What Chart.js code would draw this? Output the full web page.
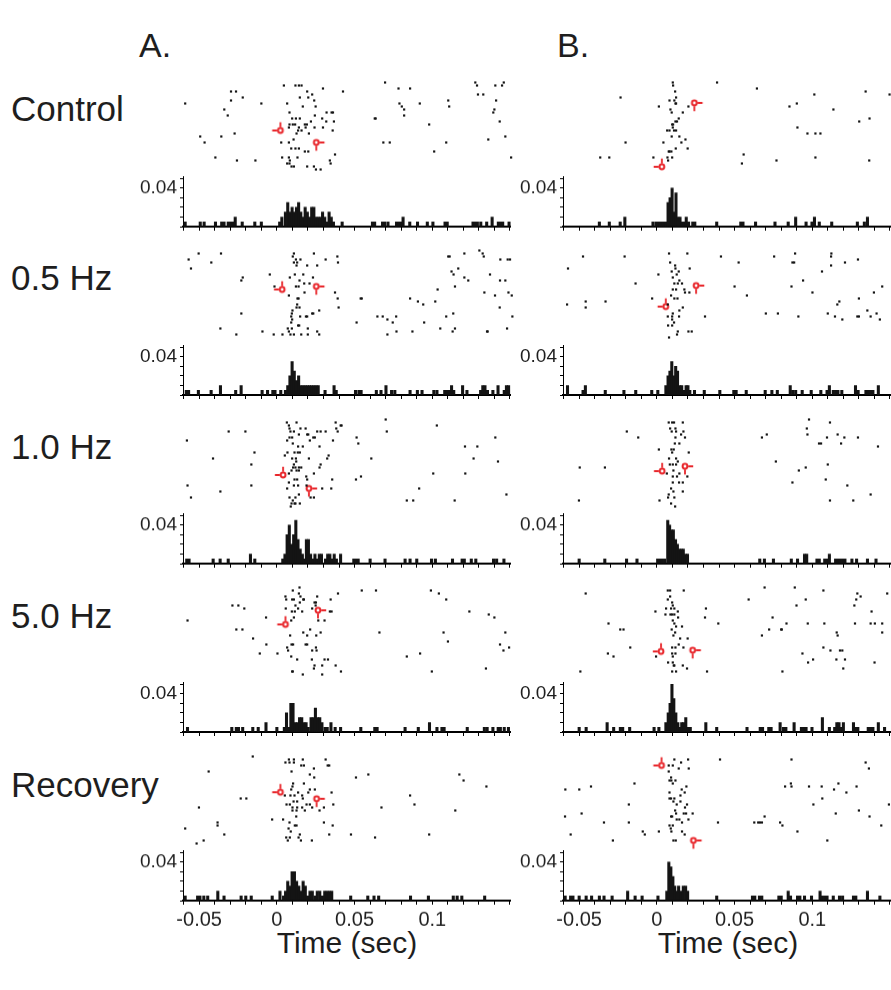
<!DOCTYPE html>
<html>
<head>
<meta charset="utf-8">
<script src="https://cdn.jsdelivr.net/npm/chart.js@4.4.1/dist/chart.umd.min.js"></script>
<style>
  html, body { margin: 0; padding: 0; background: #fff; width: 891px; height: 990px; overflow: hidden; position: relative; }
  canvas { position: absolute; }
  .lbl { position: absolute; font-family: 'Liberation Sans', Arial, sans-serif; color: #1e1e1e; line-height: 1; white-space: nowrap; }
</style>
</head>
<body>
<script>
// Row / column names and tick labels
const rowNames = ['Control', '0.5 Hz', '1.0 Hz', '5.0 Hz', 'Recovery'];
const columnNames = ['A.', 'B.'];
const xTickLabels = { '-50': '-0.05', '0': '0', '50': '0.05', '100': '0.1' };
const yTickLabel = '0.04';
const xTitle = 'Time (sec)';

// raster spikes: [time (ms), trial]
const controlA_spikes = [[-59,7],[4.1,1],[11.5,1],[13.7,1],[15.4,1],[29.1,2],[41.9,3],[68.8,0],[77.4,2],[84.8,2],[126.5,0],[127.6,1],[139.3,1],[143.6,1],[144.7,0],[-29.7,3],[-26.5,3],[-29.7,6],[-22.2,5],[-10.3,7],[19,3],[14.3,5],[19.7,5],[22.2,4],[23.5,6],[24.4,8],[16.2,8],[6.2,7],[78,7],[79.5,8],[81,9],[81,11],[91,7],[109.2,6],[109.8,8],[128.2,4],[131.6,4],[139.8,6],[138.7,9],[138,10],[142.1,13],[145.7,18],[149.4,25],[-34,9],[-31.8,11],[7.7,10],[34.6,10],[35.5,10],[31.4,10],[9.4,12],[11.8,12],[14.3,12],[23.9,11],[28.6,12],[31.2,13],[36.1,13],[21.4,13],[17.5,14],[18.8,14],[7.7,14],[9.8,14],[11.3,14],[13.7,15],[7.3,15],[12.2,17],[13.2,16],[15.4,16],[18,15],[20.1,17],[23.7,15],[29.1,15],[35.3,16],[62.2,12],[62.8,12],[97,14],[-49.4,18],[-46.6,20],[-35.9,18],[-27.4,17],[2.4,20],[7.3,20],[10.3,19],[67.7,20],[71.8,20],[107.9,20],[134.8,19],[8.8,22],[11.5,22],[13.7,22],[17.5,23],[19.7,23],[36.8,24],[100.2,23],[-39.7,25],[-25.9,26],[-14.1,26],[3,25],[7.3,25],[7.9,26],[6.2,27],[7.7,27],[12.8,25],[9,28],[33.5,26],[34,27],[10.5,28],[19,28],[23.3,28],[24.6,29],[27.6,29]];
const halfHzA_spikes = [[-56.8,3],[-55.3,6],[-50.4,1],[-42.3,4],[-36.1,1],[-23.1,10],[-22.2,9],[-23.1,21],[-36.5,26],[-26.3,28],[-9.6,27],[-4.9,8],[-2.4,28],[3.2,28],[10.5,1],[9.8,2],[11.8,3],[12.6,4],[14.7,3],[10.5,4],[12.2,5],[23.3,1],[30.8,3],[38.3,2],[38.7,4],[25.4,5],[19,5],[11.1,8],[16.5,8],[7.9,9],[14.1,10],[11.8,12],[13.5,12],[17.1,11],[20.5,11],[22.7,9],[17.3,14],[7.3,15],[13.5,16],[12.8,16],[-1.9,12],[36.8,14],[38.5,16],[39.1,19],[12.6,18],[14.1,19],[12.2,19],[9.6,20],[9.2,21],[8.8,22],[14.5,22],[18.2,22],[19,22],[22.2,21],[22.9,21],[26.7,20],[9.4,23],[8.8,24],[13.2,25],[13.9,25],[9.2,26],[19.4,26],[6.6,26],[7.3,27],[8.3,28],[10.5,28],[15.2,28],[19.4,28],[25.4,27],[26.7,28],[53.2,16],[53.9,16],[50.6,24],[63.9,22],[67.3,22],[70.3,23],[73.7,24],[75.9,22],[76.1,27],[70.3,28],[84.8,16],[89.8,17],[93.2,18],[100.9,17],[102.4,13],[86.3,27],[93.8,24],[104.1,26],[107.9,22],[112.4,21],[112,27],[113.5,26],[109.2,2],[110.1,2],[119.5,1],[115.6,6],[111.3,7],[112.6,8],[113.5,12],[119.5,9],[122,10],[129.1,0],[131.2,1],[131.9,2],[135.9,8],[132.3,14],[139.1,15],[142.1,19],[142.5,3],[147.2,3],[148.7,3],[142.3,10],[145.7,10],[147.7,14],[149.8,15],[150.2,22],[134,27],[134.4,27],[146.8,26]];
const oneHzA_spikes = [[-57.9,7],[-57.5,22],[-55.3,26],[-41.2,13],[-36.5,24],[-31.2,4],[-20.5,4],[-14.7,11],[-16.7,15],[-16.7,22],[6,1],[12.2,1],[7.3,2],[7.7,3],[8.3,4],[10.5,4],[13.7,5],[14.7,3],[18,3],[19,5],[19.7,5],[22.9,6],[23.9,6],[25.4,4],[27.6,4],[30.8,4],[37.2,1],[40.4,2],[41,2],[37.6,3],[38.5,4],[35.5,7],[6.2,7],[7.7,6],[9.4,6],[9.8,8],[13.2,9],[13,11],[14.3,11],[10.9,11],[16.2,9],[20.7,7],[26.9,9],[32.7,12],[31.8,13],[20.1,13],[6.4,11],[4.7,12],[9.4,13],[11.8,13],[12,14],[10.5,15],[11.5,16],[13.7,16],[15.2,16],[10,16],[12.2,17],[9,17],[13.7,17],[7.3,18],[27.6,15],[26.9,16],[23.3,18],[18.4,19],[19,20],[18.6,22],[10.9,20],[12.6,20],[13.2,22],[7.3,21],[10.5,22],[6.2,23],[35,20],[28.6,23],[34.4,23],[50.6,6],[51.7,8],[50.2,20],[53.4,19],[69.2,0],[69.9,4],[60,13],[7.7,26],[9.8,27],[11.5,28],[14.3,28],[9,28],[8.5,29],[10.9,28],[11.5,26],[13.7,25],[21.2,26],[23.3,26],[82.7,27],[86.8,27],[90.6,23],[99.6,18],[101.9,2],[113.3,27],[119.9,9],[120.1,18],[125.4,13],[127.8,9],[139.3,6],[141,14],[146.4,25]];
const fiveHzA_spikes = [[-57.5,11],[-28.8,6],[-25,6],[-21.2,7],[-26.3,14],[-22.4,14],[-15.6,17],[-7.3,10],[-7.1,19],[-11.3,22],[0,22],[5.1,3],[5.6,4],[9.8,1],[14.1,0],[13.7,2],[14.7,3],[16.5,4],[14.3,5],[16.9,4],[9.4,4],[10.5,4],[5.3,7],[11.5,6],[13.2,7],[9.2,8],[11.1,8],[15.8,8],[10.5,10],[8.8,11],[23.7,5],[24.6,5],[25.4,3],[24.4,6],[22.2,7],[34,4],[33.5,8],[34.6,8],[38.7,2],[26.1,11],[30.1,11],[27.6,15],[24.8,16],[20.9,14],[16.5,15],[19,16],[8.1,16],[9,19],[10,19],[18,19],[19,19],[6.2,20],[6.8,21],[22.2,21],[24.6,20],[25,21],[8.8,23],[12.6,24],[22,24],[30.1,24],[32.3,24],[23.7,26],[23.3,27],[28.6,26],[9.4,28],[9.8,28],[16.2,29],[28.6,29],[37.2,26],[40.6,28],[53.9,1],[63,1],[65.2,15],[82.7,23],[91.2,22],[98.1,1],[103.2,2],[107.9,4],[98.7,28],[106.2,15],[109,18],[122.7,8],[135.1,9],[138.7,10],[145.7,15],[142.3,19],[144.5,21],[148.1,20],[133.3,27]];
const recoveryA_spikes = [[-15.8,0],[-44,5],[-50.2,17],[-59,24],[-51.7,29],[-47.2,28],[-38.3,22],[-38.3,23],[-34,26],[-23.5,14],[-19.9,14],[-3.4,21],[3.6,21],[7.3,1],[7.7,2],[5.1,2],[10.5,1],[10.5,2],[16.2,1],[16.9,3],[15.2,3],[9,5],[23.3,4],[20.7,6],[23.5,7],[30.8,1],[33.1,3],[32.1,3],[10,9],[8.8,11],[9.6,10],[16.9,9],[19.7,12],[20.7,11],[23.9,11],[34.6,12],[4.7,13],[8.3,13],[10.9,13],[13.2,12],[15.8,13],[10.3,15],[12.6,15],[16.2,14],[18.6,16],[20.7,16],[5.8,16],[7.9,16],[9.6,17],[12.6,17],[15.8,17],[22.2,17],[12.2,18],[9.6,18],[17.5,18],[26.9,18],[29.7,17],[35.7,16],[12,20],[7.7,22],[11.1,23],[12.2,23],[7.1,24],[29.7,22],[35.3,23],[8.5,25],[14.3,26],[5.6,27],[7.9,27],[13.5,27],[15,28],[6.6,28],[22,28],[33.1,26],[47,26],[62.4,27],[50.2,7],[58.1,6],[66.5,17],[84.8,13],[87.6,16],[97,26],[116.3,6],[119,8],[113.7,18],[133.6,10]];
const controlB_spikes = [[9.8,0],[10,1],[11.3,3],[11.9,5],[10.8,6],[11.9,7],[11.5,7],[7.7,6],[8.3,9],[9.1,10],[0.9,8],[16.2,10],[19.8,8],[13.6,12],[12.5,13],[11.5,13],[10,14],[9.4,14],[9.8,15],[10.6,16],[6.2,16],[7.7,16],[11.9,16],[9.1,18],[14,18],[3.8,20],[7.2,23],[7.7,23],[8.9,23],[11.7,22],[15.3,20],[17.9,19],[19.3,22],[6.4,25],[9.4,25],[6.8,26],[-2.6,25],[-23.6,5],[-20.4,20],[-36.6,25],[-30.8,25],[38.1,0],[63.6,2],[55.1,24],[54,27],[76.1,26],[84.4,8],[89.1,7],[89.5,15],[95.9,17],[100.3,4],[101,17],[104.2,17],[101,25],[112.5,9],[129,13],[135.6,12],[133.1,3],[135.4,26],[148.4,4]];
const halfHzB_spikes = [[-57.2,6],[-47.6,2],[-57.8,18],[-45.9,17],[-45.9,19],[-33.2,17],[-21,2],[-14,11],[-3.4,16],[7.4,1],[8.1,4],[11.3,5],[11.5,6],[9.1,7],[13.6,7],[12.3,8],[0.6,8],[20.6,6],[19.1,1],[9.8,9],[10.8,11],[13,11],[14,10],[15.7,11],[17.2,13],[17.6,14],[20.4,14],[9.8,13],[11.9,13],[8.7,15],[10.8,16],[12.8,16],[6.6,18],[16.2,19],[14,20],[9.8,21],[9.4,22],[6.6,22],[13.8,22],[9.4,23],[10.6,24],[6.8,25],[9.4,25],[13,27],[12.5,28],[7.4,29],[19.8,27],[21.9,27],[30.4,22],[40.6,2],[51.9,4],[49.3,12],[57.2,15],[69.3,21],[74.6,2],[77,21],[88,1],[86.3,4],[87.4,4],[85.7,12],[90.1,22],[93.1,10],[99.1,14],[105.2,7],[108.9,21],[111.2,1],[111,2],[111,5],[113.5,22],[115,18],[116.3,17],[118.2,23],[119.9,4],[128.2,3],[127.8,22],[128.8,16],[128.8,22],[134.2,20],[136.3,22],[138.4,14],[140.1,21],[142.2,23],[143.7,12]];
const oneHzB_spikes = [[-49.7,16],[-50.2,27],[-33.6,16],[-19.6,4],[-12.3,6],[0.9,10],[1.3,27],[7.2,1],[9.4,1],[10.6,1],[8.1,3],[11.5,3],[9.1,4],[11.9,4],[16.2,1],[16.6,4],[15.1,5],[17.6,6],[11.5,6],[11.1,8],[14,8],[8.9,10],[10.4,10],[9.4,11],[20,11],[7.4,13],[11.9,13],[13,14],[7.9,15],[9.8,15],[11.9,15],[10.2,17],[14,18],[9.8,19],[19.1,19],[12.5,19],[6,18],[9.8,21],[13.8,21],[16.2,21],[8.7,23],[10.2,24],[10.8,26],[7.2,25],[6.8,26],[16.2,24],[8.7,28],[11.3,29],[66.8,6],[69.9,5],[75.7,14],[86.3,21],[90.4,17],[94.8,16],[95.5,3],[96.9,0],[95.9,5],[103.3,8],[104.6,8],[110.3,1],[108.4,6],[108.9,15],[107.6,20],[110.3,27],[115.2,5],[117.4,8],[119.5,6],[121.4,22],[125.2,27],[128.2,6],[136.3,25],[141,9]];
const fiveHzB_spikes = [[-45.9,2],[-49.3,28],[-31.3,12],[-31.7,22],[-28.1,23],[-23.8,14],[-21.7,14],[-17.4,20],[-1.3,8],[-0.9,23],[6.6,1],[8.1,1],[16.8,1],[8.1,3],[6.6,4],[9.4,5],[9.8,6],[5.5,7],[8.7,7],[10.8,7],[9.4,9],[8.3,9],[10.8,9],[13,8],[5.1,9],[13.2,10],[9.8,11],[10.8,12],[11.9,13],[15.7,13],[9.1,14],[10.2,16],[11.3,15],[14.5,17],[19.3,17],[9.4,20],[11.5,20],[13.6,19],[16.6,20],[9.4,22],[11.5,22],[9.8,23],[6.8,25],[9.8,25],[10.4,26],[10.8,26],[16.2,26],[18.9,27],[9.4,28],[11.9,28],[31,7],[30.4,10],[38.9,12],[31.7,28],[58.3,4],[66.8,16],[71.4,14],[68.5,0],[73.6,10],[79.1,14],[79.5,14],[82.5,12],[79.9,28],[87.8,0],[88.9,6],[92.7,22],[94.8,4],[96.1,12],[96.3,25],[99.5,24],[106.1,1],[106.1,20],[106.7,12],[110.6,21],[114.6,15],[115.2,16],[116.7,21],[118.2,21],[114.4,24],[119.9,24],[118.8,27],[125.9,6],[127.1,4],[127.8,2],[129.9,3],[126.3,12],[136.3,12],[139,12],[143.7,12],[136.9,8],[143.7,15],[138.8,25],[146.9,2]];
const recoveryB_spikes = [[-58.9,11],[-50,11],[-42.5,10],[-59.1,20],[-48.5,19],[-34.2,22],[-55.5,26],[-28.5,28],[-18.3,22],[-18.3,16],[-14.7,9],[-9.4,25],[-8.1,26],[0.9,25],[10.8,1],[15.1,2],[19.6,1],[7.2,3],[9.8,3],[13.6,4],[20,4],[7.2,5],[8.7,7],[7.7,8],[8.9,8],[11.5,8],[9.8,9],[18.5,10],[15.5,11],[17.4,12],[7.7,12],[8.7,14],[10.8,14],[7.7,14],[10.2,15],[14.7,13],[14.7,15],[12.3,16],[18.9,16],[17.6,17],[11.3,18],[16.8,19],[18.3,19],[22.5,19],[8.7,20],[11.9,19],[9.4,20],[12.3,21],[14,21],[15.7,22],[19.8,21],[7.7,23],[9.8,23],[8.5,24],[8.9,25],[15.7,25],[17.4,26],[11.7,28],[10.2,28],[40,1],[38.7,22],[61.9,22],[64.4,22],[65.5,22],[66.8,22],[68.5,20],[78.4,22],[79.9,23],[89.5,25],[85.7,1],[81.6,10],[85.3,9],[85.7,10],[96.9,10],[105,10],[99.7,16],[105.4,14],[112.9,11],[115.7,9],[120.8,12],[127.3,10],[114,19],[108.6,28],[128.8,18],[135.6,20],[143.1,23],[148,16],[133.1,2],[135.2,4]];

// red latency markers: [time (ms), trial, kind]
const controlA_marks = [[1.9,16,'L'],[24.8,20,'R']];
const halfHzA_marks = [[3,13,'L'],[24.8,12,'R']];
const oneHzA_marks = [[3.6,18.5,'L'],[20.1,23,'R']];
const fiveHzA_marks = [[5.1,12.3,'L'],[25.9,7.6,'R']];
const recoveryA_marks = [[1.9,11.9,'L'],[25,14.1,'R']];
const controlB_marks = [[23.6,6.8,'R'],[2.8,28.1,'L']];
const halfHzB_marks = [[5.3,18.7,'L'],[24.7,11.7,'R']];
const oneHzB_marks = [[3,17.2,'L'],[17.6,15.6,'R']];
const fiveHzB_marks = [[2.3,21.3,'L'],[22.5,20.9,'R']];
const recoveryB_marks = [[2.6,3,'L'],[23,28,'R']];

// histograms: [bin time (ms), value]
const controlA_psth = [[-59,.005],[-49.3,.005],[-46.8,.005],[-39.5,.005],[-35.5,.005],[-34,.005],[-31.3,.005],[-29.8,.005],[-28.3,.005],[-26.8,.01],[-22.3,.005],[-14.2,.005],[-10,.005],[1.8,.005],[3.2,.01],[5.5,.015],[7,.025],[8.4,.015],[9.8,.02],[11.2,.015],[12.6,.02],[14,.025],[15.4,.015],[16.8,.01],[18.2,.02],[19.6,.015],[21,.01],[22.4,.02],[23.8,.02],[25.2,.01],[26.6,.01],[28,.01],[29.4,.015],[30.8,.01],[32.2,.005],[33.6,.015],[35,.01],[36.4,.005],[42,.005],[61.5,.005],[62.9,.005],[68,.005],[69.4,.005],[71.5,.005],[77,.005],[78.4,.005],[79.8,.005],[81.2,.01],[85.5,.005],[90.5,.005],[96.8,.005],[100.4,.005],[108.2,.005],[109.6,.005],[126.2,.005],[127.6,.005],[129,.005],[131.2,.005],[135,.005],[138.5,.01],[142.5,.005],[143.9,.005],[145.3,.005],[149.4,.005]];
const halfHzA_psth = [[-58.3,.005],[-56.8,.005],[-50.5,.005],[-42.3,.005],[-36.3,.01],[-26.5,.005],[-23,.01],[-9.5,.005],[-6,.005],[-2.6,.005],[-1.2,.005],[2.5,.005],[5.5,.005],[7,.01],[8.4,.02],[9.8,.035],[11.2,.025],[12.6,.015],[14,.02],[15.4,.01],[16.8,.01],[18.2,.01],[19.6,.01],[21,.01],[22.4,.01],[23.8,.01],[25.2,.01],[26.6,.01],[31,.005],[36.8,.01],[38.2,.005],[50.6,.005],[52.8,.005],[54.2,.005],[64,.005],[67,.005],[70.2,.01],[73.8,.005],[75.9,.005],[85.7,.005],[90.4,.005],[93.4,.005],[101,.005],[103,.005],[108,.005],[109.8,.005],[111.2,.005],[112.4,.01],[113.8,.005],[119.5,.01],[122.3,.005],[131.1,.005],[132.5,.01],[133.9,.01],[135.5,.005],[139,.005],[142.3,.01],[146.3,.005],[147.7,.01],[149.1,.01]];
const oneHzA_psth = [[-58,.005],[-56.5,.005],[-41,.005],[-36.5,.005],[-31.3,.005],[-17,.01],[-14.2,.005],[3.8,.005],[5.2,.01],[6.6,.03],[8,.04],[9.4,.02],[10.8,.03],[12.2,.045],[13.6,.025],[15,.015],[16.4,.01],[17.6,.005],[19,.025],[20.3,.025],[21.7,.01],[23.1,.005],[24.5,.01],[25.9,.005],[27.3,.01],[28.7,.01],[31.3,.005],[32.7,.01],[34.1,.01],[35.5,.005],[36.9,.01],[38.3,.005],[41,.01],[49.5,.005],[50.9,.005],[52.3,.005],[60,.005],[69.6,.005],[82.5,.005],[85.7,.005],[90,.005],[99.5,.005],[102,.005],[113,.005],[119.2,.005],[120.6,.005],[125.1,.005],[128,.005],[139.4,.005],[141.4,.005],[146.1,.005]];
const fiveHzA_psth = [[-57.5,.005],[-29,.005],[-26.1,.005],[-24.7,.005],[-22,.005],[-15.5,.005],[-12,.005],[-7,.01],[0,.005],[4.8,.005],[6.2,.02],[7.6,.005],[9,.03],[10.4,.03],[11.8,.01],[13.2,.01],[14.6,.015],[16,.015],[17.4,.01],[18.8,.01],[20.2,.005],[22,.015],[23.4,.015],[24.8,.025],[26.2,.015],[27.6,.015],[29,.01],[31,.005],[32.4,.005],[34.8,.01],[37.5,.005],[41,.005],[54,.005],[63,.005],[64.5,.005],[82.5,.005],[91,.005],[98.2,.01],[103,.005],[106.2,.005],[107.6,.005],[122.5,.005],[133.5,.005],[135.3,.005],[139,.005],[142.4,.005],[143.8,.005],[146.3,.005],[149,.005]];
const recoveryA_psth = [[-59,.005],[-51,.005],[-49.5,.005],[-47,.005],[-44.5,.005],[-38,.01],[-34,.005],[-23,.005],[-20,.005],[-16.5,.005],[-3,.005],[2,.01],[4.3,.005],[5.6,.01],[7,.02],[8.3,.015],[9.8,.03],[11.3,.03],[12.7,.02],[14.1,.015],[15.5,.01],[16.9,.02],[18.3,.015],[19.7,.005],[21.3,.01],[22.8,.01],[24.5,.005],[26,.01],[27.6,.01],[29.3,.005],[30.8,.01],[32.3,.01],[33.8,.01],[35.3,.01],[47.5,.005],[58.5,.005],[62.5,.005],[65.5,.005],[86,.005],[97.5,.005],[113.5,.005],[116,.005],[119,.005],[133.7,.005]];
const controlB_psth = [[-37,.005],[-30.6,.005],[-23.6,.005],[-20.6,.01],[-2.5,.005],[-0.5,.005],[0.9,.005],[2.3,.005],[3.7,.005],[5,.005],[6.1,.005],[7.2,.025],[8.5,.03],[9.8,.04],[11.1,.015],[12.3,.035],[13.6,.01],[14.9,.01],[16.2,.005],[17.4,.005],[18.9,.01],[20.4,.005],[23.1,.005],[24.4,.005],[38.5,.005],[54,.005],[55.4,.005],[63.5,.005],[76,.005],[84.5,.005],[89.3,.01],[96,.005],[99.8,.005],[101.4,.01],[104.5,.005],[112.5,.005],[129,.005],[133.5,.005],[135.5,.01]];
const halfHzB_psth = [[-57.5,.01],[-47.5,.005],[-46,.01],[-33.2,.005],[-21.2,.005],[-13.6,.005],[-3.3,.005],[0.6,.005],[5.8,.01],[7.2,.02],[8.4,.025],[9.6,.035],[10.9,.02],[12.1,.03],[13.3,.025],[14.7,.01],[16,.01],[17.5,.005],[18.8,.01],[20,.01],[21.2,.005],[24.2,.005],[30.5,.005],[40.5,.005],[49.5,.005],[51,.005],[57.5,.005],[69.7,.005],[74,.005],[77.5,.005],[85.8,.01],[87.4,.005],[89.3,.005],[93.5,.005],[99.3,.005],[105.5,.005],[109.5,.005],[111,.01],[113.5,.005],[115,.005],[116.5,.005],[119,.005],[127.8,.01],[129.5,.005],[134.5,.005],[136,.005],[137.5,.005],[139,.005],[142.5,.01]];
const oneHzB_psth = [[-50,.005],[-33.5,.005],[-19.5,.005],[-12.8,.005],[0.5,.005],[2,.005],[3.5,.005],[5,.005],[7,.045],[8.2,.04],[9.4,.035],[10.6,.035],[12,.025],[13.2,.02],[14.5,.015],[15.8,.015],[17,.015],[18.4,.01],[19.7,.01],[66.2,.005],[69.2,.005],[75,.005],[86.5,.005],[90.5,.005],[95,.01],[96.4,.01],[103,.005],[104.5,.005],[108,.005],[109.5,.005],[111,.01],[115,.005],[116.5,.005],[118,.005],[119.5,.005],[121,.005],[125.5,.005],[128.5,.005],[135.5,.005],[141,.005]];
const fiveHzB_psth = [[-50,.005],[-45.5,.005],[-32,.01],[-27.8,.005],[-23.5,.005],[-22,.005],[-17.5,.005],[-1.8,.005],[1.3,.005],[5.8,.01],[7.3,.02],[8.5,.03],[9.7,.05],[10.9,.035],[12.2,.02],[13.5,.01],[14.8,.005],[16,.01],[17.2,.01],[18.6,.015],[20,.005],[21.5,.005],[31.5,.01],[38.5,.005],[58,.005],[66.5,.005],[68,.005],[72,.005],[73.5,.005],[79.3,.01],[81.5,.005],[83,.005],[88.3,.01],[93,.005],[94.5,.005],[96,.005],[99.8,.005],[106.5,.015],[111,.005],[114.4,.005],[115.8,.01],[117.2,.01],[118.6,.005],[120,.01],[126.5,.01],[128,.005],[129.3,.005],[136,.005],[137.5,.005],[139,.005],[142.5,.01],[146.5,.005]];
const recoveryB_psth = [[-59,.005],[-55.5,.005],[-54,.005],[-50,.005],[-45.5,.005],[-42,.005],[-37,.005],[-34,.005],[-28.8,.005],[-18.8,.01],[-14,.005],[-9.5,.005],[0.7,.005],[6.4,.01],[7.7,.04],[9,.035],[10.3,.025],[11.5,.015],[12.8,.01],[14,.015],[15.5,.01],[17,.015],[18.5,.015],[19.8,.01],[38.5,.005],[61.5,.005],[63,.005],[66,.005],[67.5,.005],[78.5,.005],[80,.005],[84.5,.01],[86,.005],[90.5,.005],[92,.005],[95,.005],[99.5,.005],[105,.01],[106.5,.005],[108,.005],[109.5,.005],[113.5,.005],[117.5,.005],[119.5,.005],[126.5,.005],[128,.005],[135.5,.01],[143.5,.005]];

const panels = [
  { row: 0, col: 0, spikes: controlA_spikes, marks: controlA_marks, psth: controlA_psth },
  { row: 1, col: 0, spikes: halfHzA_spikes, marks: halfHzA_marks, psth: halfHzA_psth },
  { row: 2, col: 0, spikes: oneHzA_spikes, marks: oneHzA_marks, psth: oneHzA_psth },
  { row: 3, col: 0, spikes: fiveHzA_spikes, marks: fiveHzA_marks, psth: fiveHzA_psth },
  { row: 4, col: 0, spikes: recoveryA_spikes, marks: recoveryA_marks, psth: recoveryA_psth },
  { row: 0, col: 1, spikes: controlB_spikes, marks: controlB_marks, psth: controlB_psth },
  { row: 1, col: 1, spikes: halfHzB_spikes, marks: halfHzB_marks, psth: halfHzB_psth },
  { row: 2, col: 1, spikes: oneHzB_spikes, marks: oneHzB_marks, psth: oneHzB_psth },
  { row: 3, col: 1, spikes: fiveHzB_spikes, marks: fiveHzB_marks, psth: fiveHzB_psth },
  { row: 4, col: 1, spikes: recoveryB_spikes, marks: recoveryB_marks, psth: recoveryB_psth }
];

// layout (px)
const COL_LEFT = [183, 563];
const AREA_W = 330;
const ROW_STEP = 168.5;
const RASTER_TOP = 80.5;
const RASTER_H = 90;
const HIST_BASE = 226.7;
const HIST_H = 50;
const X_MIN = -60.4, X_MAX = 150.6;
const INK = '#141414';
const RED = '#e8262b';

Chart.defaults.font.family = "'Liberation Sans', Arial, sans-serif";
Chart.defaults.color = '#1e1e1e';

function addLabel(text, left, top, size, extra) {
  const d = document.createElement('div');
  d.className = 'lbl';
  d.textContent = text;
  d.style.left = left + 'px';
  d.style.top = top + 'px';
  d.style.fontSize = size + 'px';
  if (extra) Object.assign(d.style, extra);
  document.body.appendChild(d);
}

function addCanvas(left, top, w, h) {
  const c = document.createElement('canvas');
  c.width = w; c.height = h;
  c.style.left = left + 'px';
  c.style.top = top + 'px';
  c.style.width = w + 'px';
  c.style.height = h + 'px';
  document.body.appendChild(c);
  return c;
}

// move a canvas so that its chart area starts exactly at (areaLeft, areaTop)
function alignChart(chart, canvas, areaLeft, areaTop) {
  const a = chart.chartArea;
  canvas.style.left = (areaLeft - a.left) + 'px';
  canvas.style.top = (areaTop - a.top) + 'px';
}

// red marker: small circle with a stub to the left+up (L) or right+down (R)
function makeMarker(kind) {
  const c = document.createElement('canvas');
  c.width = 22; c.height = 22;
  const g = c.getContext('2d');
  g.strokeStyle = RED;
  g.lineWidth = 2;
  g.beginPath(); g.arc(11, 11, 2.4, 0, Math.PI * 2); g.stroke();
  const s = kind === 'L' ? -1 : 1;
  g.lineWidth = 1.8;
  g.beginPath();
  g.moveTo(11 + s * 3.2, 11); g.lineTo(11 + s * 8.2, 11);
  g.moveTo(11, 11 + s * 3.2); g.lineTo(11, 11 + s * 8.2);
  g.stroke();
  return c;
}
const markerL = makeMarker('L');
const markerR = makeMarker('R');

function drawRaster(p) {
  const pad = 10;
  const left = COL_LEFT[p.col];
  const top = RASTER_TOP + ROW_STEP * p.row;
  const c = addCanvas(left - pad, top - pad, AREA_W + 2 * pad, RASTER_H + 2 * pad);
  const chart = new Chart(c, {
    type: 'scatter',
    data: {
      datasets: [{
        data: p.spikes.map(([x, y]) => ({ x, y })),
        pointStyle: 'rect',
        pointRadius: 1.55,
        backgroundColor: INK,
        borderWidth: 0,
        clip: false
      }, {
        data: p.marks.filter(m => m[2] === 'L').map(([x, y]) => ({ x, y })),
        pointStyle: markerL,
        pointRadius: 6,
        clip: false
      }, {
        data: p.marks.filter(m => m[2] === 'R').map(([x, y]) => ({ x, y })),
        pointStyle: markerR,
        pointRadius: 6,
        clip: false
      }]
    },
    options: {
      responsive: false,
      maintainAspectRatio: false,
      animation: false,
      events: [],
      devicePixelRatio: 1,
      layout: { padding: pad },
      plugins: { legend: { display: false }, tooltip: { enabled: false } },
      scales: {
        x: { type: 'linear', display: false, min: X_MIN, max: X_MAX },
        y: { type: 'linear', display: false, min: -0.5, max: 29.5, reverse: true }
      }
    }
  });
  alignChart(chart, c, left, top);
}

function histConfig(p, padTop, yAxisW, xAxisH) {
  const bottomRow = p.row === rowNames.length - 1;
  return {
    type: 'bar',
    data: {
      datasets: [{
        data: p.psth.map(([x, y]) => ({ x, y })),
        backgroundColor: INK,
        borderWidth: 0,
        barThickness: 2.4
      }]
    },
    options: {
      responsive: false,
      maintainAspectRatio: false,
      animation: false,
      events: [],
      devicePixelRatio: 1,
      layout: { padding: { top: padTop, left: 0, right: 0, bottom: 0 } },
      plugins: { legend: { display: false }, tooltip: { enabled: false } },
      scales: {
        x: {
          type: 'linear',
          offset: false,
          min: X_MIN, max: X_MAX,
          afterFit: s => { s.height = xAxisH; },
          border: { display: true, color: '#000', width: 2 },
          grid: { drawOnChartArea: false, drawTicks: true, tickLength: 4, color: '#000', offset: false },
          ticks: {
            stepSize: 10,
            includeBounds: false,
            autoSkip: false,
            maxRotation: 0,
            padding: 3,
            font: { size: 20 },
            color: '#1e1e1e',
            callback: v => bottomRow ? (xTickLabels[String(Math.round(v))] || '') : ''
          }
        },
        y: {
          type: 'linear',
          min: 0, max: 0.052,
          afterFit: s => { s.width = yAxisW; },
          border: { display: true, color: '#000', width: 1 },
          grid: { drawOnChartArea: false, drawTicks: true, tickLength: 3, color: '#000' },
          ticks: {
            stepSize: 0.01,
            includeBounds: false,
            autoSkip: false,
            padding: 3,
            font: { size: 19 },
            color: '#1e1e1e',
            callback: v => Math.abs(v - 0.04) < 1e-6 ? yTickLabel : ''
          }
        }
      }
    }
  };
}

function drawHist(p) {
  const yAxisW = 53;
  const padTop = 8;
  const xAxisH = 40;
  const areaLeft = COL_LEFT[p.col];
  const areaTop = HIST_BASE + ROW_STEP * p.row - HIST_H;
  const w = yAxisW + AREA_W;
  let h = padTop + HIST_H + xAxisH;
  let c = addCanvas(areaLeft - yAxisW, areaTop - padTop, w, h);
  let chart = new Chart(c, histConfig(p, padTop, yAxisW, xAxisH));
  // keep the plotting area exactly HIST_H tall, whatever padding Chart.js added
  const extra = (chart.chartArea.bottom - chart.chartArea.top) - HIST_H;
  if (Math.abs(extra) > 0.1) {
    chart.destroy();
    c.remove();
    h = h - extra;
    c = addCanvas(areaLeft - yAxisW, areaTop - padTop, w, h);
    chart = new Chart(c, histConfig(p, padTop, yAxisW, xAxisH));
  }
  alignChart(chart, c, areaLeft, areaTop);
}

// titles and row labels
addLabel(columnNames[0], 139, 28, 34);
addLabel(columnNames[1], 557, 28, 34);
rowNames.forEach((name, r) => addLabel(name, 11, 108 + 169 * r - 17, 35));
addLabel(xTitle, 197, 928, 30, { width: '300px', textAlign: 'center' });
addLabel(xTitle, 578, 928, 30, { width: '300px', textAlign: 'center' });

panels.forEach(p => { drawRaster(p); drawHist(p); });
</script>
</body>
</html>
